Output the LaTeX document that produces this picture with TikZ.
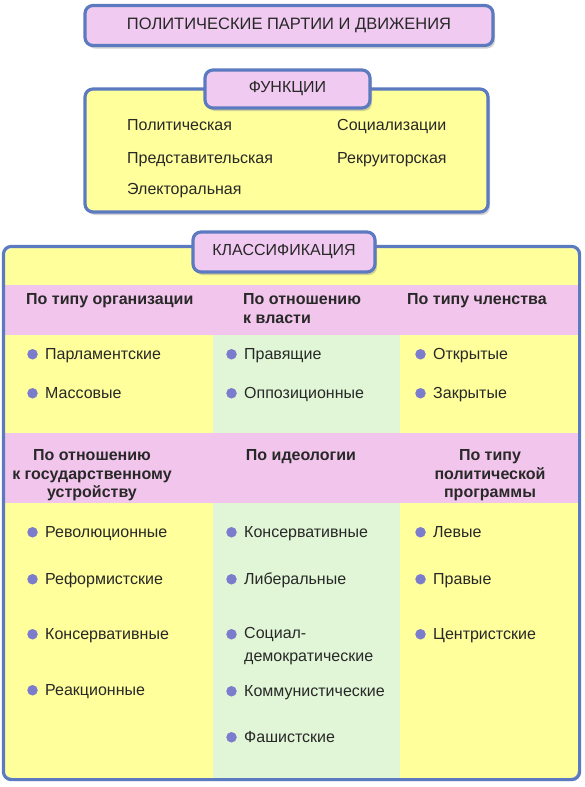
\documentclass[tikz,border=0pt]{standalone}
\usepackage{fontspec}
\setmainfont{Liberation Sans}
\usetikzlibrary{positioning,shadows,calc}
\definecolor{rozov}{RGB}{240,202,240}
\definecolor{polosa}{RGB}{242,198,236}
\definecolor{zhelt}{RGB}{255,255,155}
\definecolor{zelen}{RGB}{224,246,214}
\definecolor{sinij}{RGB}{92,122,192}
\definecolor{tochka}{RGB}{124,124,204}
\definecolor{tekst}{RGB}{40,40,40}

\begin{document}
\begin{tikzpicture}[x=1pt, y=-1pt, font=\fontsize{16}{19}\selectfont, text=tekst,
    ram/.style={draw=sinij, line width=3.2pt, rounded corners=8pt},
    ten/.style={drop shadow={shadow xshift=2pt, shadow yshift=-3pt, opacity=.35}},
    shapka/.style={ram, ten, fill=rozov, inner sep=0pt},
    panel/.style={ram, ten, fill=zhelt, inner sep=0pt},
    txt/.style={anchor=base west, inner sep=0pt},
    punkt/.style={txt, text height=11.5pt, text depth=2pt},
    zag/.style={inner sep=0pt, font=\fontsize{16}{18.5}\selectfont\bfseries, align=center, anchor=north}]
  \useasboundingbox (0,0) rectangle (585,787);

  % title
  \node[shapka, minimum width=408pt, minimum height=40pt, font=\fontsize{16.5}{19}\selectfont] (title) at (289,25.5) {ПОЛИТИЧЕСКИЕ ПАРТИИ И ДВИЖЕНИЯ};

  % functions
  \node[panel, minimum width=403pt, minimum height=123pt] (func) at (286.5,150.5) {};
  \node[shapka, minimum width=165pt, minimum height=38pt] (functab) at (287.5,89) {ФУНКЦИИ};
  \node[txt] (f1) at (127,130) {Политическая};
  \node[txt] (f2) at (127,163) {Представительская};
  \node[txt] (f3) at (127,194) {Электоральная};
  \node[txt] (f4) at (337,130) {Социализации};
  \node[txt] (f5) at (337,163) {Рекруиторская};

  % classification
  \node[panel, draw=none, minimum width=573pt, minimum height=530pt] (klass) at (291.5,513) {};
  \begin{scope}
    \clip[rounded corners=8pt] (klass.south west) rectangle (klass.north east);
    \fill[zelen] (213,335) rectangle (400,778);
    \fill[polosa] (0,285) rectangle (585,335);
    \fill[polosa] (0,433) rectangle (585,503);
  \end{scope}
  \draw[ram] (klass.south west) rectangle (klass.north east);
  \node[shapka, minimum width=182pt, minimum height=40pt] (klasstab) at (284,252) {КЛАССИФИКАЦИЯ};

  \node[zag, anchor=north west] (h1) at (26,293.5) {По типу организации};
  \node[zag, anchor=north west, align=left] (h2) at (243,293.5) {По отношению\\к власти};
  \node[zag, anchor=north west] (h3) at (407,293.5) {По типу членства};

  \node[punkt] (a1) at (45,359) {Парламентские};
  \node[punkt] (a2) at (45,398) {Массовые};
  \node[punkt] (b1) at (244,359) {Правящие};
  \node[punkt] (b2) at (244,398) {Оппозиционные};
  \node[punkt] (c1) at (433,359) {Открытые};
  \node[punkt] (c2) at (433,398) {Закрытые};

  \node[zag] (h4) at (92,449.5) {По отношению\\к государственному\\устройству};
  \node[zag] (h5) at (301,449.5) {По идеологии};
  \node[zag] (h6) at (490,449.5) {По типу\\политической\\программы};

  \node[punkt] (d1) at (45,537) {Революционные};
  \node[punkt] (d2) at (45,584) {Реформистские};
  \node[punkt] (d3) at (45,639) {Консервативные};
  \node[punkt] (d4) at (45,695) {Реакционные};
  \node[punkt] (e1) at (244,537) {Консервативные};
  \node[punkt] (e2) at (244,584) {Либеральные};
  \node[txt, anchor=north west, align=left, font=\fontsize{16}{23}\selectfont] (e3) at (244,627.5) {Социал-\\демократические};
  \node[punkt] (e4) at (244,696) {Коммунистические};
  \node[punkt] (e5) at (244,742) {Фашистские};
  \node[punkt] (g1) at (433,537) {Левые};
  \node[punkt] (g2) at (433,584) {Правые};
  \node[punkt] (g3) at (433,639) {Центристские};

  % bullets
  \foreach \p in {a1,a2,b1,b2,c1,c2,d1,d2,d3,d4,e1,e2,e4,e5,g1,g2,g3}
    \fill[tochka] ($(\p.west)+(-12.5,0)$) circle[radius=5.25pt];
  \fill[tochka] ($(e3.north west)+(-12.5,6.75)$) circle[radius=5.25pt];
\end{tikzpicture}
\end{document}
